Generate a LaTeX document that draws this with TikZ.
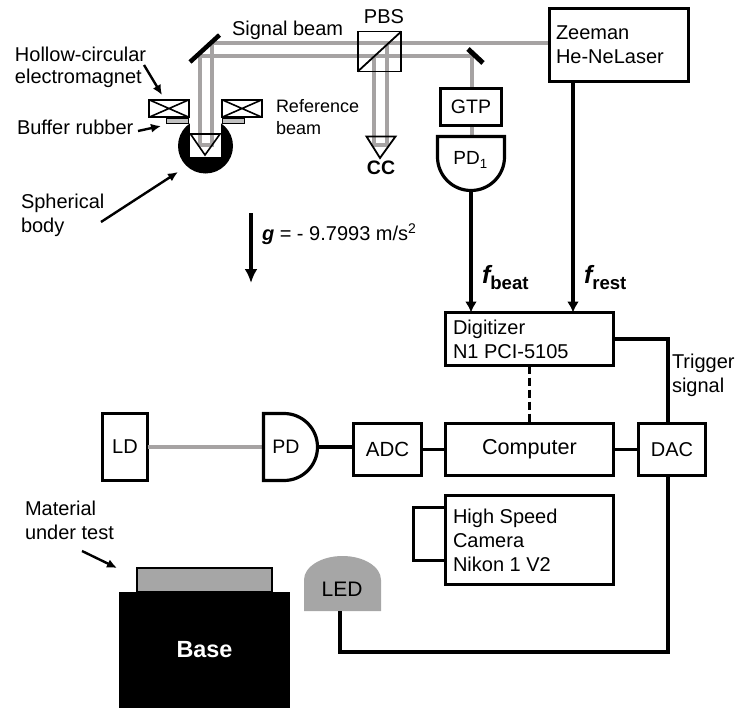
\documentclass[tikz,border=0pt]{standalone}
\usepackage{fontspec}
\setmainfont{Liberation Sans}
\usetikzlibrary{arrows.meta,calc}
\definecolor{beam}{HTML}{A6A3A3}
\definecolor{fillgray}{HTML}{A6A6A6}
\tikzset{
  x=1pt,y=-1pt,
  every node/.style={inner sep=0,outer sep=0,text=black,font=\fontsize{20}{24}\selectfont},
  lbl/.style={align=left,anchor=west},
  small/.style={font=\fontsize{18}{22}\selectfont},
  device/.style={draw=black,line width=3.2pt,fill=white},
  beamline/.style={draw=beam,line width=4pt},
  wire/.style={draw=black,line width=3.2pt},
  arr/.style={draw=black,line width=3.2pt,-{Latex[length=11pt,width=12pt]}},
  thinarr/.style={draw=black,line width=2.4pt,-{Latex[length=10pt,width=9pt]}},
  coil/.style={draw=black,line width=2pt,fill=white,minimum width=40pt,minimum height=17.5pt},
  rubber/.style={draw=black,line width=1.4pt,fill=fillgray!70,minimum width=22pt,minimum height=5pt},
}
\begin{document}
\begin{tikzpicture}
\useasboundingbox (0,0) rectangle (737,709);
% sphere
\fill[black] (205.5,146) circle (27.5);
\fill[white] (190,118) rectangle (220.5,157);
% beams
\draw[beamline] (600,43) -- (211.5,43) -- (211.5,145) -- (200,145) -- (200,56) -- (472,56) -- (472,135);
\draw[beamline] (387,43) -- (387,145) -- (374,145) -- (374,56);
% retro reflectors
\coordinate (t1) at (190.5,134); \coordinate (t2) at (220,134); \coordinate (t3) at (205,155);
\draw[black,line width=1.6pt] (t1) -- (t2) -- (t3) -- cycle;
\coordinate (c1) at (366.5,136.5); \coordinate (c2) at (395.5,136.5); \coordinate (c3) at (380,158);
\draw[black,line width=1.8pt] (c1) -- (c2) -- (c3) -- cycle;
\node[font=\fontsize{19.5}{24}\selectfont\bfseries] (cc) at (381,167.5) {CC};
% mirrors
\draw[black,line width=4.5pt] (190,62) -- (219.5,35);
\draw[black,line width=5pt] (468,49) -- (483,63);
% PBS
\node[draw=black,line width=1.8pt,minimum width=43.5pt,minimum height=40pt] (pbs) at (379.5,51.5) {};
\draw[black,line width=1.8pt] (pbs.south west) -- (pbs.north east);
\node (pbsl) at (384,17) {PBS};
% electromagnets
\node[coil] (emL) at (169,108.5) {};
\draw[black,line width=1.6pt] (emL.north west) -- (emL.south east) (emL.south west) -- (emL.north east);
\node[coil] (emR) at (242,108.5) {};
\draw[black,line width=1.6pt] (emR.north west) -- (emR.south east) (emR.south west) -- (emR.north east);
\node[rubber] (rubL) at (177.5,121) {};
\node[rubber] (rubR) at (233.5,121) {};
% labels top-left
\node[lbl] (sb) at (232,30) {Signal beam};
\node[lbl] (he) at (15,54) {Hollow-circular};
\node[lbl] (em) at (15,78) {electromagnet};
\node[lbl] (br) at (17,127) {Buffer rubber};
\node[lbl,small] (rb) at (276,106) {Reference};
\node[lbl,small] (rb2) at (276,128) {beam};
\node[lbl] (sp) at (21,203) {Spherical};
\node[lbl] (bd) at (21,227) {body};
\coordinate (a1) at (144,65); \coordinate (a1e) at (162,95);
\draw[thinarr] (a1) -- (a1e);
\coordinate (a2) at (138,131); \coordinate (a2e) at (161,126);
\draw[thinarr] (a2) -- (a2e);
\coordinate (a3) at (101,222); \coordinate (a3e) at (178,172);
\draw[thinarr] (a3) -- (a3e);
% gravity
\coordinate (g1) at (251,213); \coordinate (g2) at (251,283);
\draw[black,line width=4pt,-{Latex[length=14pt,width=13pt]}] (g1) -- (g2);
\node[lbl] (g) at (262,234) {\textbf{\textit{g}} = - 9.7993 m/s\textsuperscript{2}};
% Zeeman, GTP, PD1
\node[device,minimum width=139pt,minimum height=73pt] (zee) at (619,45) {};
\node[lbl] (zt) at (556,45) {Zeeman\\He-NeLaser};
\node[device,minimum width=61pt,minimum height=37pt,font=\fontsize{19.5}{24}\selectfont] (gtp) at (471,107) {GTP};
\draw[device] (437.5,136.5) -- (504.5,136.5) -- (504.5,157) arc[start angle=0,end angle=180,radius=33.5] -- cycle;
\node[font=\fontsize{19}{24}\selectfont] (pd1) at (470.5,160) {PD\textsubscript{1}};
\coordinate (pd1b) at (471,190.5);
% Digitizer etc
\node[device,minimum width=168pt,minimum height=53pt] (dig) at (529.5,339) {};
\node[lbl] (digt) at (453,339) {Digitizer\\N1 PCI-5105};
\draw[arr] (pd1b) -- (pd1b |- dig.north);
\coordinate (zb) at (573,83);
\draw[arr] (zb) -- (zb |- dig.north);
\node[anchor=base west,font=\fontsize{25}{28}\selectfont\bfseries\itshape] (fb) at (482,283) {f\fontsize{18.6}{22}\selectfont\upshape\raisebox{-6pt}{beat}};
\node[anchor=base west,font=\fontsize{25}{28}\selectfont\bfseries\itshape] (fr) at (584,283) {f\fontsize{18.6}{22}\selectfont\upshape\raisebox{-6pt}{rest}};
\node[device,minimum width=168pt,minimum height=52pt,font=\fontsize{21.6}{26}\selectfont] (comp) at (529.5,449.5) {Computer};
\node[device,minimum width=67pt,minimum height=52pt] (dac) at (672,449.5) {DAC};
\node[device,minimum width=68pt,minimum height=52pt,font=\fontsize{20.5}{24}\selectfont] (adc) at (387.5,449.5) {ADC};
\node[device,minimum width=45pt,minimum height=67pt] (ld) at (125,447) {LD};
\coordinate (pdl) at (263.5,447);
\draw[beamline] (ld.east) -- (pdl);
\draw[device] (263.5,413.5) -- (284,413.5) arc[start angle=-90,end angle=90,x radius=33.5,y radius=33.5] -- (263.5,480.5) -- cycle;
\node[font=\fontsize{19.5}{24}\selectfont] (pd) at (286,447) {PD};
\coordinate (pdr) at (317.5,447);
\draw[wire] (pdr) -- (pdr -| adc.west);
\draw[wire] (adc.east) -- (adc.east -| comp.west);
\draw[wire] (comp.east) -- (comp.east -| dac.west);
\draw[black,line width=3pt,dash pattern=on 8pt off 4pt] (dig.south) -- (comp.north);
\coordinate (tg) at (668,339);
\draw[wire] (dig.east) -- (tg) -- (tg |- dac.north);
\node[lbl] (tr) at (672,375) {Trigger\\signal};
% camera
\node[device,minimum width=168pt,minimum height=89pt] (cam) at (529.5,540) {};
\node[lbl] (camt) at (453,540) {High Speed\\Camera\\Nikon 1 V2};
\coordinate (b1) at (413.5,507.5); \coordinate (b2) at (413.5,560.5);
\draw[wire] (b1 -| cam.west) -- (b1) -- (b2) -- (b2 -| cam.west);
% material, base, LED
\node[lbl] (mu) at (25,520.5) {Material\\under test};
\coordinate (a4) at (82,551); \coordinate (a4e) at (117,568);
\draw[thinarr] (a4) -- (a4e);
\node[draw=black,line width=1.6pt,fill=fillgray,minimum width=135.5pt,minimum height=24pt] (mat) at (204.5,580) {};
\node[fill=black,minimum width=171pt,minimum height=116pt,text=white,font=\fontsize{23.4}{28}\selectfont\bfseries] (base) at (204.5,650) {Base};
\fill[fillgray] (304,611) -- (304,580) arc[start angle=180,end angle=360,x radius=38.5,y radius=24] -- (381,611) -- cycle;
\node[font=\fontsize{21}{25}\selectfont] (led) at (342,589) {LED};
\coordinate (ledb) at (340,611);
\coordinate (br2) at (668,652);
\draw[wire] (ledb) -- (ledb |- br2) -- (br2) -- (br2 |- dac.south);
\end{tikzpicture}
\end{document}
